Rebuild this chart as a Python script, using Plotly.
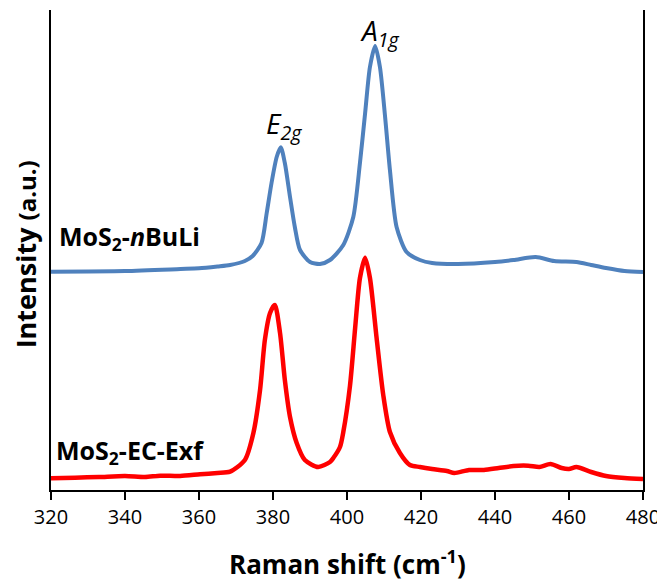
import plotly.graph_objects as go

# Raman shift (cm-1) and intensity (a.u., offset traces)
nbuli_x = [320, 340, 355, 360, 365, 368.4, 372.4, 374.5, 376.9, 378.3, 379.6, 381.0, 382.1,
           383.2, 384.6, 385.9, 387.3, 390, 392.7, 395.4, 399.0, 401.7, 403.5, 404.9, 406.2,
           407.6, 408.9, 410.3, 411.6, 413.4, 416.1, 419.7, 423, 430, 440, 445, 451, 456,
           462, 466, 470, 475, 480]
nbuli_y = [218.3, 219, 221, 221.7, 223.5, 225, 229, 234, 247, 277, 307, 333, 342.7,
           327, 293, 263, 240, 228, 226, 230, 245, 273, 327, 377, 423,
           444, 423, 373, 320, 263, 238, 230, 227, 226, 228, 230, 233, 229,
           228, 225, 222, 219, 218]

ecexf_x = [320, 326.5, 333, 340, 345.4, 349.5, 354.9, 360.3, 365, 368.4, 372.4, 374.7, 376.5,
           377.8, 379.2, 380.5, 381.9, 383.2, 384.6, 386.4, 388.6, 392.2, 395.4, 396.3, 398.1, 399.0,
           400.8, 402.2, 403.5, 404.9, 406.2, 408.0, 409.8, 411.6, 414.3, 417.0, 419.7, 423,
           427, 429, 433, 437, 441, 445, 449, 452, 455, 458, 460, 462, 466, 470, 475, 480]
ecexf_y = [11.7, 12.3, 13, 14, 13, 14.3, 14, 15.7, 17, 18.3, 30, 57, 100,
           150, 177, 185, 157, 110, 73, 47, 30, 23, 28, 32, 43, 58,
           104, 162, 212, 232.3, 212, 152, 95, 58, 37, 25, 23, 21,
           19, 17, 20, 20, 22, 24, 24.3, 23, 26, 22, 21, 23, 18, 14, 12, 11]

x_ticks = [320, 340, 360, 380, 400, 420, 440, 460, 480]

FONT = "Open Sans"

fig = go.Figure()
fig.add_trace(go.Scatter(x=nbuli_x, y=nbuli_y, mode="lines",
                         line=dict(color="#4F81BD", width=4, shape="spline", smoothing=0.7),
                         showlegend=False, hoverinfo="skip"))
fig.add_trace(go.Scatter(x=ecexf_x, y=ecexf_y, mode="lines",
                         line=dict(color="#FF0000", width=4.5, shape="spline", smoothing=0.7),
                         showlegend=False, hoverinfo="skip"))

# page body adds an 8px offset; margins compensate
fig.update_layout(
    width=665, height=580,
    margin=dict(l=43, r=30, t=2, b=98, autoexpand=False),
    plot_bgcolor="white", paper_bgcolor="white",
    font=dict(family=FONT, color="black"),
    xaxis=dict(range=[320, 480], tickvals=x_ticks, ticks="outside", ticklen=8, tickwidth=2,
               tickcolor="black", showline=True, linecolor="black", linewidth=2,
               showgrid=False, zeroline=False, automargin=False,
               tickfont=dict(size=20, family=FONT)),
    yaxis=dict(range=[0, 480], showticklabels=False, ticks="", showline=True,
               linecolor="black", linewidth=2, mirror=True, showgrid=False, zeroline=False,
               automargin=False),
)

annots = [
    dict(text="<b>Raman shift (cm<sup>-1</sup>)</b>", x=0.5, y=-0.152, xref="paper", yref="paper",
         xanchor="center", yanchor="middle", font=dict(size=26)),
    dict(text="<b>Intensity <span style='font-size:24px'>(a.u.)</span></b>", x=-0.043, y=0.49,
         xref="paper", yref="paper", textangle=-90, xanchor="center", yanchor="middle",
         font=dict(size=27)),
    dict(text="<b>MoS<sub>2</sub>-<i>n</i>BuLi</b>", x=321.6, y=253, xref="x", yref="y",
         xanchor="left", yanchor="middle", font=dict(size=25)),
    dict(text="<b>MoS<sub>2</sub>-EC-Exf</b>", x=320.8, y=39, xref="x", yref="y",
         xanchor="left", yanchor="middle", font=dict(size=25)),
    dict(text="<i>E<sub>2g</sub></i>", x=383.0, y=365, xref="x", yref="y",
         xanchor="center", yanchor="middle", font=dict(size=28)),
    dict(text="<i>A<sub>1g</sub></i>", x=408.8, y=458, xref="x", yref="y",
         xanchor="center", yanchor="middle", font=dict(size=28)),
]
for a in annots:
    a["showarrow"] = False
fig.update_layout(annotations=annots)

fig.write_html("out.html")
